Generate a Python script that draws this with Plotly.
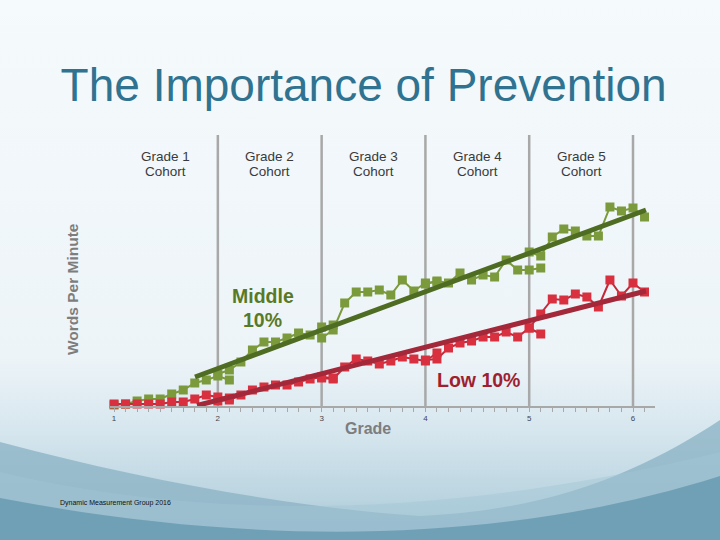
import base64
import plotly.graph_objects as go

# ---------------- data ----------------
grades = [1, 2, 3, 4, 5, 6]
cohort_line1 = ["Grade 1", "Grade 2", "Grade 3", "Grade 4", "Grade 5"]
cohort_line2 = ["Cohort", "Cohort", "Cohort", "Cohort", "Cohort"]
cohort_starts = [1, 2, 3, 4, 5]
steps_per_grade = 9  # benchmark points are spaced 1/9 of a grade apart

middle_c1 = [1, 2, 5, 7, 7, 12, 16, 23, 26, 30, 26]
middle_c2 = [32, 36, 44, 56, 64, 64, 68, 73, 71, 79, 81]
middle_c3 = [68, 76, 103, 114, 114, 116, 111, 126, 115, 123, 124]
middle_c4 = [122, 125, 123, 133, 126, 131, 129, 146, 136, 136, 138]
middle_c5 = [154, 150, 169, 177, 175, 170, 170, 199, 195, 198, 189]

low_c1 = [2, 2, 2, 2, 2, 4, 4, 7, 11, 9, 8]
low_c2 = [5, 6, 11, 16, 19, 21, 21, 24, 27, 29, 28]
low_c3 = [28, 27, 39, 47, 45, 42, 45, 49, 47, 45, 53]
low_c4 = [46, 47, 58, 63, 65, 69, 69, 74, 69, 78, 72]
low_c5 = [78, 92, 107, 106, 112, 109, 99, 126, 110, 123, 114]

middle_trend_x = [1.78, 6.125]
middle_trend_y = [29, 196]
low_trend_x = [1.80, 6.125]
low_trend_y = [0.5, 115]

middle_series = [middle_c1, middle_c2, middle_c3, middle_c4, middle_c5]
low_series = [low_c1, low_c2, low_c3, low_c4, low_c5]

# ---------------- styling ----------------
GREEN = "#7b9a3c"
GREEN_DARK = "#4f6d22"
RED = "#d9303f"
RED_LINE = "#c4283a"
RED_DARK = "#a3283a"
FONT = "Liberation Sans, Arial, sans-serif"

svg = """<svg xmlns='http://www.w3.org/2000/svg' width='720' height='540' viewBox='0 0 720 540' preserveAspectRatio='none'>
<defs><linearGradient id='g' x1='0' y1='0' x2='0' y2='1'>
<stop offset='0' stop-color='#f5fafc'/><stop offset='0.66' stop-color='#edf4f8'/>
<stop offset='0.80' stop-color='#d6e6ee'/><stop offset='1' stop-color='#a9c9d7'/></linearGradient></defs>
<rect width='720' height='540' fill='url(#g)'/>
<path d='M0,442 C150,482 300,508 420,516 C560,510 650,466 720,420 L720,540 L0,540 Z' fill='#8db4c6' opacity='0.8'/>
<path d='M0,472 C180,515 420,526 720,452 L720,540 L0,540 Z' fill='#a2c5d4' opacity='0.45'/>
<path d='M0,498 C250,546 500,546 720,476 L720,540 L0,540 Z' fill='#6b9cb2' opacity='0.9'/>
</svg>"""
bg_uri = "data:image/svg+xml;base64," + base64.b64encode(svg.encode()).decode()

fig = go.Figure()


def xs_for(start, n):
    return [start + i / steps_per_grade for i in range(n)]


for start, vals in zip(cohort_starts, middle_series):
    fig.add_trace(go.Scatter(
        x=xs_for(start, len(vals)), y=vals, mode="lines+markers",
        line=dict(color=GREEN, width=2),
        marker=dict(symbol="square", size=9, color=GREEN),
        cliponaxis=False, showlegend=False, hoverinfo="skip"))
fig.add_trace(go.Scatter(x=middle_trend_x, y=middle_trend_y, mode="lines",
                         line=dict(color=GREEN_DARK, width=5), showlegend=False))

for start, vals in zip(cohort_starts, low_series):
    fig.add_trace(go.Scatter(
        x=xs_for(start, len(vals)), y=vals, mode="lines+markers",
        line=dict(color=RED_LINE, width=2),
        marker=dict(symbol="square", size=9, color=RED),
        cliponaxis=False, showlegend=False, hoverinfo="skip"))
fig.add_trace(go.Scatter(x=low_trend_x, y=low_trend_y, mode="lines",
                         line=dict(color=RED_DARK, width=5), showlegend=False))

shapes = []
for g in grades[1:]:
    shapes.append(dict(type="line", xref="x", yref="paper", x0=g, x1=g, y0=0, y1=1,
                       line=dict(color="#a8a8a8", width=2.5), layer="below"))

annotations = []
for start, l1, l2 in zip(cohort_starts, cohort_line1, cohort_line2):
    annotations.append(dict(x=start + 0.5, y=(406 - 156) / 271, xref="x", yref="paper", text=l1,
                            showarrow=False, xanchor="center", yanchor="middle",
                            font=dict(family=FONT, size=13.5, color="#3a3a3a")))
    annotations.append(dict(x=start + 0.5, y=(406 - 171) / 271, xref="x", yref="paper", text=l2,
                            showarrow=False, xanchor="center", yanchor="middle",
                            font=dict(family=FONT, size=13.5, color="#3a3a3a")))
annotations += [
    dict(x=2.435, y=(406 - 296) / 271, xref="x", yref="paper", text="<b>Middle</b>",
         showarrow=False, xanchor="center", yanchor="middle",
         font=dict(family=FONT, size=19.5, color="#587a26")),
    dict(x=2.435, y=(406 - 320) / 271, xref="x", yref="paper", text="<b>10%</b>",
         showarrow=False, xanchor="center", yanchor="middle",
         font=dict(family=FONT, size=19.5, color="#587a26")),
    dict(x=4.507, y=(406 - 380) / 271, xref="x", yref="paper", text="<b>Low 10%</b>",
         showarrow=False, xanchor="center", yanchor="middle",
         font=dict(family=FONT, size=19.5, color="#9e1f32")),
    dict(x=(72 - 110) / 545, y=(406 - 289) / 271, xref="paper", yref="paper",
         text="<b>Words Per Minute</b>", textangle=-90, showarrow=False,
         xanchor="center", yanchor="middle",
         font=dict(family=FONT, size=15.5, color="#7d7d7d")),
    dict(x=(368 - 110) / 545, y=(406 - 428) / 271, xref="paper", yref="paper", text="<b>Grade</b>",
         showarrow=False, xanchor="center", yanchor="middle",
         font=dict(family=FONT, size=16, color="#7d7d7d")),
    dict(x=(58 - 110) / 545, y=(406 - 503) / 271, xref="paper", yref="paper",
         text="Dynamic Measurement Group 2016", xanchor="left", yanchor="middle", showarrow=False,
         font=dict(family="Liberation Sans Narrow, Liberation Sans, sans-serif", size=7, color="#111111")),
]

fig.update_layout(
    width=720, height=540,
    margin=dict(l=110, r=65, t=135, b=134),
    paper_bgcolor="#f4f9fc", plot_bgcolor="rgba(0,0,0,0)",
    title=dict(text="The Importance of Prevention", x=0.505, xanchor="center",
               y=1 - 85 / 540, yanchor="middle", yref="container",
               font=dict(family=FONT, size=46, color="#2f7391")),
    images=[dict(source=bg_uri, xref="paper", yref="paper",
                 x=-110 / 545, y=406 / 271, sizex=720 / 545, sizey=540 / 271,
                 xanchor="left", yanchor="top", sizing="stretch", layer="below")],
    shapes=shapes, annotations=annotations,
    xaxis=dict(range=[0.961, 6.212], tickvals=grades, ticktext=[str(g) for g in grades],
               showgrid=False, zeroline=False, showline=True, linecolor="#a8a8a8", linewidth=1.5,
               ticks="outside", ticklen=4, tickcolor="#a8a8a8",
               minor=dict(dtick=1 / 9, tick0=1, ticks="outside", ticklen=4, tickcolor="#a8a8a8"),
               tickfont=dict(family=FONT, size=8, color="#444444"), fixedrange=True),
    yaxis=dict(range=[0, 271], showgrid=False, zeroline=False, showline=False,
               showticklabels=False, ticks="", fixedrange=True),
)

fig.write_html("out.html", config={"displayModeBar": False},
               post_script="document.body.style.margin='0';")
